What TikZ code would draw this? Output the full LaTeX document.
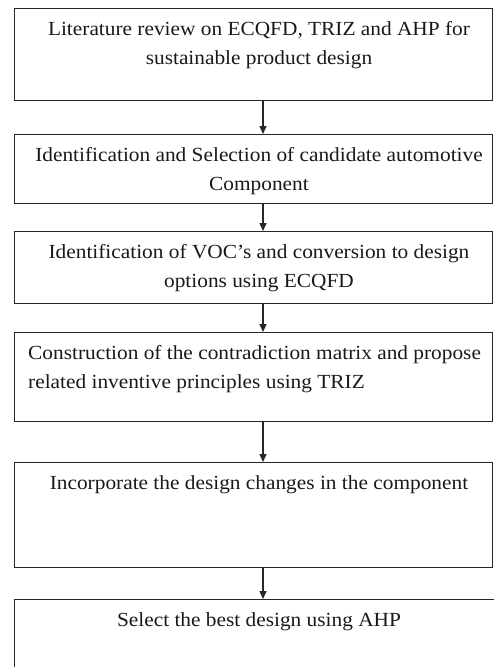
\documentclass[tikz,border=0pt]{standalone}
\usepackage{fontspec}
\setmainfont[FakeStretch=1.067]{Liberation Serif}
\usetikzlibrary{arrows.meta}
\begin{document}
\begin{tikzpicture}[x=1pt,y=-1pt,
  boxframe/.style={draw=black!85,line width=1.1pt,inner sep=0pt},
  steptext/.style={inner sep=0pt,anchor=base,font=\fontsize{20}{29}\selectfont,text=black!90},
  flow/.style={draw=black!85,line width=1.1pt,-{Triangle[width=7pt,length=8pt]}}]
\useasboundingbox (0,0) rectangle (494,667);
\clip (0,0) rectangle (494,667);
% boxes
\node[boxframe,minimum width=478.5pt,minimum height=92pt,anchor=north west] (b1) at (13.5,8) {};
\node[boxframe,minimum width=478.5pt,minimum height=69pt,anchor=north west] (b2) at (13.5,134) {};
\node[boxframe,minimum width=478.5pt,minimum height=72pt,anchor=north west] (b3) at (13.5,231) {};
\node[boxframe,minimum width=478.5pt,minimum height=89pt,anchor=north west] (b4) at (13.5,332) {};
\node[boxframe,minimum width=478.5pt,minimum height=105pt,anchor=north west] (b5) at (13.5,462) {};
\node[boxframe,minimum width=500pt,minimum height=100pt,anchor=north west] (b6) at (13.5,599) {};
% texts (base anchor = baseline of the last line)
\node[steptext,align=center] (t1) at (259,64.5) {Literature review on ECQFD, TRIZ and AHP for\\sustainable product design};
\node[steptext,align=center] (t2) at (259,190.5) {Identification and Selection of candidate automotive\\Component};
\node[steptext,align=center] (t3) at (259,287.5) {Identification of VOC’s and conversion to design\\options using ECQFD};
\node[steptext,align=left,anchor=base west] (t4) at (28,388.5) {Construction of the contradiction matrix and propose\\related inventive principles using TRIZ};
\node[steptext] (t5) at (259,489.5) {Incorporate the design changes in the component};
\node[steptext] (t6) at (259,626.5) {Select the best design using AHP};
% arrows
\draw[flow] (b1.south -| 263,0) -- (b2.north -| 263,0);
\draw[flow] (b2.south -| 263,0) -- (b3.north -| 263,0);
\draw[flow] (b3.south -| 263,0) -- (b4.north -| 263,0);
\draw[flow] (b4.south -| 263,0) -- (b5.north -| 263,0);
\draw[flow] (b5.south -| 263,0) -- (b6.north -| 263,0);
\end{tikzpicture}
\end{document}
